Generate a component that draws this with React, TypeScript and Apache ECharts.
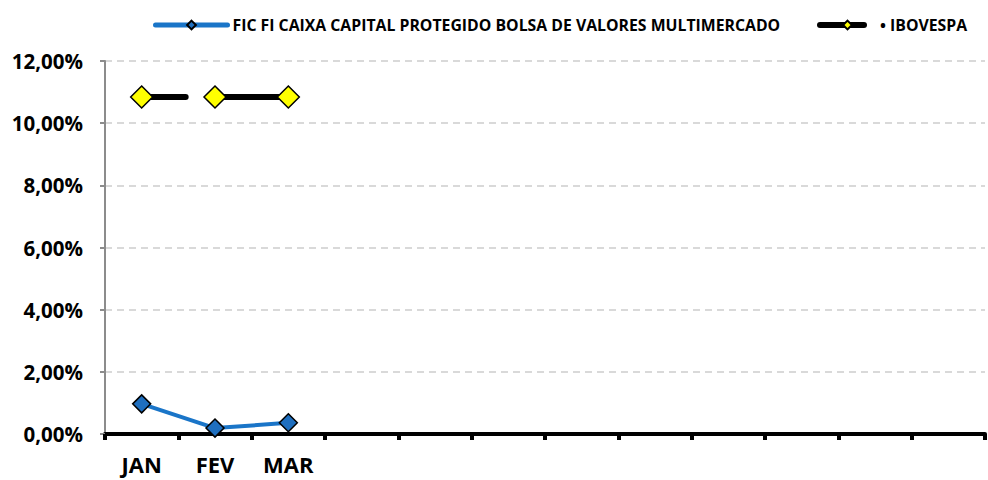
import React, { useEffect, useRef } from "react";
import * as echarts from "echarts";

const months = ["JAN", "FEV", "MAR", "ABR", "MAI", "JUN", "JUL", "AGO", "SET", "OUT", "NOV", "DEZ"];
const fundName = "FIC FI CAIXA CAPITAL PROTEGIDO BOLSA DE VALORES MULTIMERCADO";
const fundValues = [0.97, 0.19, 0.36];
const iboName = "• IBOVESPA";
const iboValues = [10.84, 10.84, 10.84];
const yTicks = [0, 2, 4, 6, 8, 10, 12];

const FONT = "Open Sans";

export default function App() {
  const ref = useRef<HTMLDivElement>(null);
  useEffect(() => {
    const chart = echarts.init(ref.current!, null, { renderer: "svg" });
    chart.setOption({
      animation: false,
      backgroundColor: "#ffffff",
      textStyle: { fontFamily: FONT },
      legend: [
        {
          data: [fundName],
          left: 148,
          top: 12,
          itemWidth: 72,
          itemHeight: 11,
          itemGap: 6,
          lineStyle: { width: 5, cap: "round" },
          textStyle: { fontFamily: FONT, fontWeight: "bold", fontSize: 15.8, color: "#000" },
        },
        {
          data: [iboName],
          left: 812,
          top: 12,
          itemWidth: 55,
          itemHeight: 11,
          lineStyle: { width: 6, cap: "round" },
          textStyle: { fontFamily: FONT, fontWeight: "bold", fontSize: 15.8, color: "#000" },
        },
      ],
      grid: { left: 105, right: 3, top: 61, bottom: 46, containLabel: false },
      xAxis: {
        type: "category",
        data: months,
        boundaryGap: true,
        axisLine: { show: true, lineStyle: { color: "#000", width: 4 } },
        axisTick: { show: true, alignWithLabel: false, length: 6, lineStyle: { color: "#000", width: 4 } },
        axisLabel: {
          margin: 19,
          interval: 0,
          fontFamily: FONT,
          fontWeight: "bold",
          fontSize: 22,
          color: "#000",
          formatter: (v: string, i: number) => (i < fundValues.length ? v : ""),
        },
        splitLine: { show: false },
      },
      yAxis: {
        type: "value",
        min: yTicks[0],
        max: yTicks[yTicks.length - 1],
        interval: 2,
        axisLine: { show: true, lineStyle: { color: "#8c8c8c", width: 2 } },
        axisTick: { show: true, length: 5, lineStyle: { color: "#8c8c8c", width: 2 } },
        axisLabel: {
          margin: 22,
          fontFamily: FONT,
          fontWeight: "bold",
          fontSize: 20.5,
          color: "#000",
          formatter: (v: number) => v.toFixed(2).replace(".", ",") + "%",
        },
        splitLine: { show: true, lineStyle: { color: "#d9d9d9", width: 2, type: [7, 5] } },
      },
      series: [
        {
          name: fundName,
          type: "line",
          data: fundValues,
          symbol: "diamond",
          symbolSize: 18,
          lineStyle: { color: "#1a75c8", width: 4 },
          itemStyle: { color: "#1f6fbf", borderColor: "#000", borderWidth: 1.5 },
          z: 3,
        },
        {
          name: iboName,
          type: "line",
          data: iboValues,
          symbol: "diamond",
          symbolSize: 22,
          lineStyle: { color: "#000", width: 6, cap: "round", type: [44, 30, 200], dashOffset: 0 },
          itemStyle: { color: "#ffff00", borderColor: "#000", borderWidth: 1.5 },
          z: 4,
        },
      ],
    });
    return () => chart.dispose();
  }, []);
  return <div ref={ref} style={{ position: "absolute", left: 0, top: 0, width: 988, height: 480 }} />;
}
